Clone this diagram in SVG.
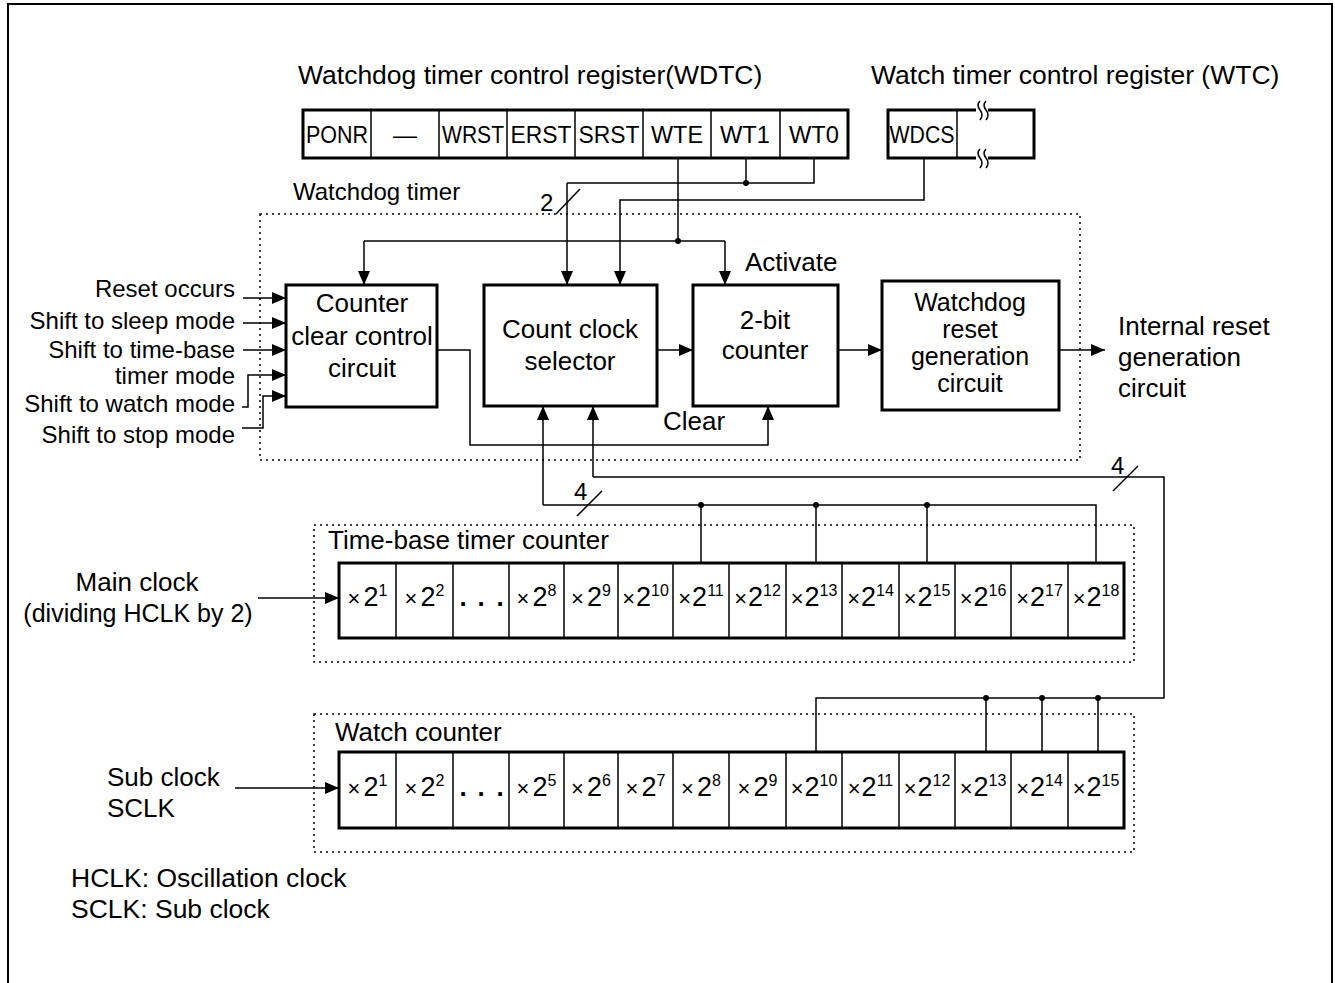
<svg xmlns="http://www.w3.org/2000/svg" width="1335" height="983" viewBox="0 0 1335 983">
<style>
text{font-family:"Liberation Sans",Arial,sans-serif;fill:#000}
.t27{font-size:26.5px}
.t26{font-size:26px}
.t25{font-size:25px}
.t24{font-size:24px}
.leg{font-size:26.5px}
.reg{font-size:24px;text-anchor:middle}
.cell{font-size:27px;text-anchor:middle}
.x{font-size:22px}
.sup{font-size:16px}
.dots{font-size:26px;font-weight:bold;text-anchor:middle}
.mid{text-anchor:middle}
.end{text-anchor:end}
.box{fill:#fff;stroke:#000;stroke-width:3}
.thin{fill:none;stroke:#000;stroke-width:1.5}
.dotbox{fill:none;stroke:#000;stroke-width:1.5;stroke-dasharray:2,4}
.wire{fill:none;stroke:#000;stroke-width:1.5}
.arr{fill:none;stroke:#000;stroke-width:1.5;marker-end:url(#ah)}
.jn{fill:#000}
</style>
<defs>
<marker id="ah" markerUnits="userSpaceOnUse" markerWidth="14" markerHeight="12" refX="14" refY="6" orient="auto">
<path d="M0,0 L14,6 L0,12 z" fill="#000"/>
</marker>
</defs>
<rect width="1335" height="983" fill="#fff"/>
<path d="M8,990 V4 H1332 V990" fill="none" stroke="#000" stroke-width="2"/>

<g id="titles">
<text class="t27" x="298" y="84">Watchdog timer control register(WDTC)</text>
<text class="t27" x="871" y="84">Watch timer control register (WTC)</text>
</g>

<g id="wdtc">
<rect class="box" x="303" y="110" width="545" height="48"/>
<path class="thin" d="M371,110V158M439,110V158M507,110V158M575,110V158M643,110V158M711,110V158M780,110V158"/>
<text class="reg" x="337" y="143" textLength="62" lengthAdjust="spacingAndGlyphs">PONR</text>
<text class="mid" x="405" y="143" font-size="24px">—</text>
<text class="reg" x="473" y="143" textLength="62" lengthAdjust="spacingAndGlyphs">WRST</text>
<text class="reg" x="541" y="143" textLength="61" lengthAdjust="spacingAndGlyphs">ERST</text>
<text class="reg" x="609" y="143" textLength="61" lengthAdjust="spacingAndGlyphs">SRST</text>
<text class="reg" x="677" y="143" textLength="52" lengthAdjust="spacingAndGlyphs">WTE</text>
<text class="reg" x="745" y="143" textLength="50" lengthAdjust="spacingAndGlyphs">WT1</text>
<text class="reg" x="814" y="143" textLength="50" lengthAdjust="spacingAndGlyphs">WT0</text>
</g>

<g id="wtc">
<path d="M957,110 H888 V158 H957" fill="none" stroke="#000" stroke-width="3"/>
<path d="M957,110 H976 M988,110 H1034 V158 H988 M976,158 H957" fill="none" stroke="#000" stroke-width="3"/>
<path class="thin" d="M957,110 V158"/>
<path class="thin" d="M980,101 q-4,4 0,9 q4,5 0,10 M986,101 q-4,4 0,9 q4,5 0,10 M980,149 q-4,4 0,9 q4,5 0,10 M986,149 q-4,4 0,9 q4,5 0,10"/>
<text class="reg" x="922" y="143" textLength="65" lengthAdjust="spacingAndGlyphs">WDCS</text>
</g>

<g id="watchdog-timer">
<rect class="dotbox" x="260" y="214" width="820" height="246"/>
<text class="t24" x="293" y="200">Watchdog timer</text>
</g>

<g id="counter-clear">
<rect class="box" x="286" y="285" width="151" height="122"/>
<text class="t26 mid" x="362" y="312">Counter</text>
<text class="t26 mid" x="362" y="345">clear control</text>
<text class="t26 mid" x="362" y="377">circuit</text>
</g>

<g id="count-clock-selector">
<rect class="box" x="484" y="285" width="173" height="121"/>
<text class="t26 mid" x="570" y="338">Count clock</text>
<text class="t26 mid" x="570" y="370">selector</text>
</g>

<g id="two-bit-counter">
<rect class="box" x="693" y="285" width="145" height="121"/>
<text class="t26 mid" x="765" y="329">2-bit</text>
<text class="t26 mid" x="765" y="359">counter</text>
</g>

<g id="watchdog-reset">
<rect class="box" x="882" y="281" width="177" height="129"/>
<text class="t25 mid" x="970" y="311">Watchdog</text>
<text class="t25 mid" x="970" y="338">reset</text>
<text class="t25 mid" x="970" y="365">generation</text>
<text class="t25 mid" x="970" y="392">circuit</text>
</g>

<g id="internal-reset">
<text class="t26" x="1118" y="335">Internal reset</text>
<text class="t26" x="1118" y="366">generation</text>
<text class="t26" x="1118" y="397">circuit</text>
</g>

<g id="inputs">
<text class="t24 end" x="235" y="297">Reset occurs</text>
<text class="t24 end" x="235" y="329">Shift to sleep mode</text>
<text class="t24 end" x="235" y="358">Shift to time-base</text>
<text class="t24 end" x="235" y="384">timer mode</text>
<text class="t24 end" x="235" y="412">Shift to watch mode</text>
<text class="t24 end" x="235" y="443">Shift to stop mode</text>
</g>

<g id="labels">
<text class="t26" x="745" y="271">Activate</text>
<text class="t26" x="663" y="430">Clear</text>
<text class="t24" x="540" y="211">2</text>
<text class="t24" x="574" y="500">4</text>
<text class="t24" x="1111" y="474">4</text>
</g>

<g id="timebase-counter">
<rect class="dotbox" x="314" y="525" width="820" height="137"/>
<text class="t26" x="328" y="549">Time-base timer counter</text>
<rect class="box" x="339" y="563" width="785" height="75"/>
<path class="thin" d="M396,563V638M453,563V638M509,563V638M564,563V638M618,563V638M673,563V638M729,563V638M786,563V638M842,563V638M899,563V638M955,563V638M1011,563V638M1068,563V638"/>
<text class="cell" x="367.5" y="606"><tspan class="x">×</tspan><tspan dx="3">2</tspan><tspan class="sup" dy="-10">1</tspan></text>
<text class="cell" x="424.5" y="606"><tspan class="x">×</tspan><tspan dx="3">2</tspan><tspan class="sup" dy="-10">2</tspan></text>
<text class="dots" x="463 481 500" y="606">...</text>
<text class="cell" x="536.5" y="606"><tspan class="x">×</tspan><tspan dx="3">2</tspan><tspan class="sup" dy="-10">8</tspan></text>
<text class="cell" x="591" y="606"><tspan class="x">×</tspan><tspan dx="3">2</tspan><tspan class="sup" dy="-10">9</tspan></text>
<text class="cell" x="645.5" y="606"><tspan class="x">×</tspan><tspan dx="1">2</tspan><tspan class="sup" dy="-10">10</tspan></text>
<text class="cell" x="701" y="606"><tspan class="x">×</tspan><tspan dx="1">2</tspan><tspan class="sup" dy="-10">11</tspan></text>
<text class="cell" x="757.5" y="606"><tspan class="x">×</tspan><tspan dx="1">2</tspan><tspan class="sup" dy="-10">12</tspan></text>
<text class="cell" x="814" y="606"><tspan class="x">×</tspan><tspan dx="1">2</tspan><tspan class="sup" dy="-10">13</tspan></text>
<text class="cell" x="870.5" y="606"><tspan class="x">×</tspan><tspan dx="1">2</tspan><tspan class="sup" dy="-10">14</tspan></text>
<text class="cell" x="927" y="606"><tspan class="x">×</tspan><tspan dx="1">2</tspan><tspan class="sup" dy="-10">15</tspan></text>
<text class="cell" x="983" y="606"><tspan class="x">×</tspan><tspan dx="1">2</tspan><tspan class="sup" dy="-10">16</tspan></text>
<text class="cell" x="1039.5" y="606"><tspan class="x">×</tspan><tspan dx="1">2</tspan><tspan class="sup" dy="-10">17</tspan></text>
<text class="cell" x="1096" y="606"><tspan class="x">×</tspan><tspan dx="1">2</tspan><tspan class="sup" dy="-10">18</tspan></text>
</g>

<g id="main-clock">
<text class="t26 mid" x="137" y="591">Main clock</text>
<text class="t25 mid" x="138" y="622">(dividing HCLK by 2)</text>
</g>

<g id="watch-counter">
<rect class="dotbox" x="314" y="714" width="820" height="138"/>
<text class="t26" x="335" y="741">Watch counter</text>
<rect class="box" x="339" y="752" width="785" height="76"/>
<path class="thin" d="M396,752V828M453,752V828M509,752V828M564,752V828M618,752V828M673,752V828M729,752V828M786,752V828M842,752V828M899,752V828M955,752V828M1011,752V828M1068,752V828"/>
<text class="cell" x="367.5" y="796"><tspan class="x">×</tspan><tspan dx="3">2</tspan><tspan class="sup" dy="-10">1</tspan></text>
<text class="cell" x="424.5" y="796"><tspan class="x">×</tspan><tspan dx="3">2</tspan><tspan class="sup" dy="-10">2</tspan></text>
<text class="dots" x="463 481 500" y="796">...</text>
<text class="cell" x="536.5" y="796"><tspan class="x">×</tspan><tspan dx="3">2</tspan><tspan class="sup" dy="-10">5</tspan></text>
<text class="cell" x="591" y="796"><tspan class="x">×</tspan><tspan dx="3">2</tspan><tspan class="sup" dy="-10">6</tspan></text>
<text class="cell" x="645.5" y="796"><tspan class="x">×</tspan><tspan dx="3">2</tspan><tspan class="sup" dy="-10">7</tspan></text>
<text class="cell" x="701" y="796"><tspan class="x">×</tspan><tspan dx="3">2</tspan><tspan class="sup" dy="-10">8</tspan></text>
<text class="cell" x="757.5" y="796"><tspan class="x">×</tspan><tspan dx="3">2</tspan><tspan class="sup" dy="-10">9</tspan></text>
<text class="cell" x="814" y="796"><tspan class="x">×</tspan><tspan dx="1">2</tspan><tspan class="sup" dy="-10">10</tspan></text>
<text class="cell" x="870.5" y="796"><tspan class="x">×</tspan><tspan dx="1">2</tspan><tspan class="sup" dy="-10">11</tspan></text>
<text class="cell" x="927" y="796"><tspan class="x">×</tspan><tspan dx="1">2</tspan><tspan class="sup" dy="-10">12</tspan></text>
<text class="cell" x="983" y="796"><tspan class="x">×</tspan><tspan dx="1">2</tspan><tspan class="sup" dy="-10">13</tspan></text>
<text class="cell" x="1039.5" y="796"><tspan class="x">×</tspan><tspan dx="1">2</tspan><tspan class="sup" dy="-10">14</tspan></text>
<text class="cell" x="1096" y="796"><tspan class="x">×</tspan><tspan dx="1">2</tspan><tspan class="sup" dy="-10">15</tspan></text>
</g>

<g id="sub-clock">
<text class="t26" x="107" y="786">Sub clock</text>
<text class="t26" x="107" y="817">SCLK</text>
</g>

<g id="legend">
<text class="leg" x="71" y="887">HCLK: Oscillation clock</text>
<text class="leg" x="71" y="918">SCLK: Sub clock</text>
</g>

<g id="connectors">
<path class="wire" d="M814,158 V183 H567"/>
<path class="wire" d="M746,158 V183"/>
<path class="arr" d="M567,183 V285"/>
<path class="wire" d="M556,214 L580,189"/>
<path class="arr" d="M924,158 V200 H620 V285"/>
<path class="wire" d="M678,158 V241"/>
<path class="wire" d="M364,241 H725"/>
<path class="arr" d="M364,241 V285"/>
<path class="arr" d="M725,241 V285"/>
<path class="arr" d="M437,350 H470 V445 H768 V406"/>
<path class="arr" d="M657,350 H693"/>
<path class="arr" d="M838,350 H882"/>
<path class="arr" d="M1059,350 H1105"/>
<path class="arr" d="M243,298 H286"/>
<path class="arr" d="M243,323 H286"/>
<path class="arr" d="M243,350 H286"/>
<path class="arr" d="M242,407 H248 V375 H286"/>
<path class="arr" d="M242,428 H263 V396 H286"/>
<path class="arr" d="M543,505 V406"/>
<path class="arr" d="M593,477 V406"/>
<path class="wire" d="M543,505 H1096 V563"/>
<path class="wire" d="M701,505 V563 M816,505 V563 M927,505 V563"/>
<path class="wire" d="M577,516 L602,491"/>
<path class="wire" d="M593,477 H1164 V698 H816 V752"/>
<path class="wire" d="M986,698 V752 M1042,698 V752 M1098,698 V752"/>
<path class="wire" d="M1113,491 L1138,466"/>
<path class="arr" d="M258,598 H339"/>
<path class="arr" d="M235,788 H339"/>
<circle class="jn" cx="746" cy="183" r="3"/>
<circle class="jn" cx="678" cy="241" r="3"/>
<circle class="jn" cx="701" cy="505" r="3"/>
<circle class="jn" cx="816" cy="505" r="3"/>
<circle class="jn" cx="927" cy="505" r="3"/>
<circle class="jn" cx="986" cy="698" r="3"/>
<circle class="jn" cx="1042" cy="698" r="3"/>
<circle class="jn" cx="1098" cy="698" r="3"/>
</g>
</svg>
